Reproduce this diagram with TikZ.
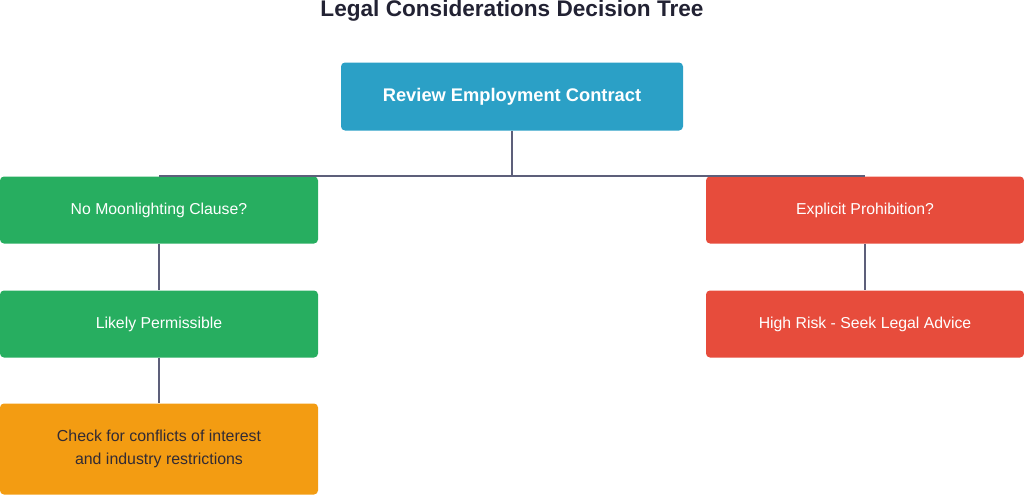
\documentclass[tikz,border=0pt]{standalone}
\usepackage{fontspec}
\setmainfont{Liberation Sans}
\usetikzlibrary{positioning}
\definecolor{rootblue}{HTML}{2BA0C6}
\definecolor{okgreen}{HTML}{27AE60}
\definecolor{riskred}{HTML}{E74C3C}
\definecolor{warnorange}{HTML}{F39C12}
\definecolor{linkgrey}{HTML}{5D5F7A}
\definecolor{titleink}{HTML}{222233}
\begin{document}
\begin{tikzpicture}[x=1pt, y=-1pt]
                \tikzstyle{box} = [shape=rectangle, rounded corners=4pt, inner sep=0pt, minimum width=318pt, minimum height=67pt, text=white, font=\fontsize{15.8}{19}\selectfont, align=center];
                \tikzstyle{link} = [draw=linkgrey, line width=2pt];

                \useasboundingbox (0,0) rectangle (1024,495);

                \node[font=\fontsize{22.6}{26}\selectfont\bfseries, text=titleink](title) at (512,10.5) {Legal Considerations Decision Tree};

                \node[box, fill=rootblue, minimum width=342pt, minimum height=68pt, font=\fontsize{18.3}{22}\selectfont\bfseries](root) at (512,96.5) {Review Employment Contract};

                \node[box, fill=okgreen](noclause) at (159,210) {No Moonlighting Clause?};
                \node[box, fill=okgreen](likely) at (159,324) {Likely Permissible};
                \node[box, fill=warnorange, minimum height=91pt, text=titleink!90!brown, font=\fontsize{15.9}{23}\selectfont](check) at (159,449) {Check for conflicts of interest\\and industry restrictions};

                \node[box, fill=riskred](prohib) at (865,210) {Explicit Prohibition?};
                \node[box, fill=riskred](highrisk) at (865,324) {High Risk - Seek Legal Advice};

                \draw[link]
                    (root.south) -- (root.south |- noclause.north)
                    (noclause.north) -- (prohib.north)
                    (noclause) edge (likely)
                    (likely) edge (check)
                    (prohib) edge (highrisk)
                ;
            \end{tikzpicture}
\end{document}
